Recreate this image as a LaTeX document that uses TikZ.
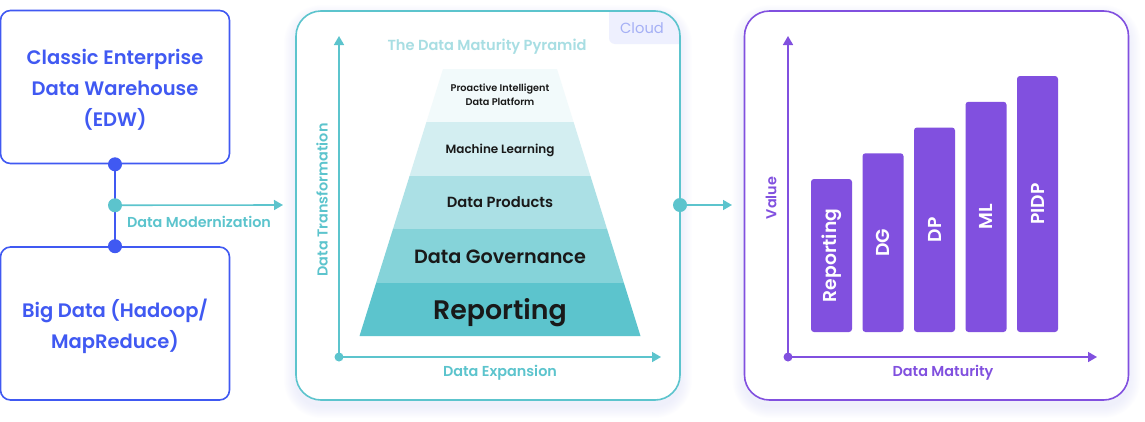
\documentclass[tikz,border=0pt]{standalone}
\usepackage{fontspec}
\setmainfont{Poppins}[BoldFont={Poppins SemiBold}]
\usetikzlibrary{calc,positioning,arrows.meta}
\definecolor{edwblue}{HTML}{4059F2}
\definecolor{cloudcyan}{HTML}{5CC4CD}
\definecolor{valpurple}{HTML}{8150DF}
\definecolor{tagfill}{HTML}{EEF0FE}
\definecolor{tagtext}{HTML}{A5B0F5}
\definecolor{titlecyan}{HTML}{A8DEE3}
\definecolor{shadowcol}{HTML}{D5D7F5}
\definecolor{lay0}{HTML}{F2FAFB}
\definecolor{lay1}{HTML}{D3EEF1}
\definecolor{lay2}{HTML}{ABE0E5}
\definecolor{lay3}{HTML}{85D3D9}
\definecolor{lay4}{HTML}{5CC4CD}
\newcommand{\sz}[1]{\fontsize{#1}{#1}\selectfont}
\newcommand{\lw}{1.6pt}
\tikzstyle{legacy}=[rectangle, draw=edwblue, line width=\lw, rounded corners=10pt, minimum width=229pt, minimum height=153pt, fill=white, inner sep=0pt]
\tikzstyle{legacytext}=[inner sep=0pt, text=edwblue, font=\bfseries\fontsize{19.5}{31}\selectfont, align=center]
\tikzstyle{panel}=[rectangle, line width=\lw, rounded corners=25pt, minimum width=384pt, minimum height=389pt, fill=white, inner sep=0pt]
\tikzstyle{dot}=[circle, inner sep=0pt, minimum size=14pt]
\tikzstyle{origin}=[circle, inner sep=0pt, minimum size=9pt]
\tikzstyle{axlabel}=[inner sep=0pt, font=\bfseries\sz{14.4}]
\tikzstyle{valbar}=[rectangle, fill=valpurple, rounded corners=3pt, inner sep=0pt, minimum height=41pt, text=white, font=\bfseries\sz{18.7}]

\begin{document}
\begin{tikzpicture}[x=1pt,y=-1pt,>={Triangle[length=9pt,width=10pt]}]
\useasboundingbox (0,0) rectangle (1145,421);

\foreach \x in {488,936.5}
  \foreach \k in {1,...,12}{
    \pgfmathsetmacro\rc{25+\k}
    \fill[shadowcol,opacity=0.04,rounded corners=\rc pt] ({\x-192-\k},{11-\k+6}) rectangle ({\x+192+\k},{400+\k+6});
  }

\node[legacy] (EDW) at (115,87) {};
\node[legacytext] (EDWt) at (115,90) {Classic Enterprise\\Data Warehouse\\(EDW)};
\node[legacy] (BD) at (115,323.5) {};
\node[legacytext] (BDt) at (115,326) {Big Data (Hadoop/\\MapReduce)};
\node[dot,fill=edwblue] (EDWd) at (EDW.south) {};
\node[dot,fill=edwblue] (BDd) at (BD.north) {};
\draw[draw=edwblue,line width=\lw] (EDWd.center) -- (BDd.center);
\node[dot,fill=cloudcyan] (MOD) at ($(EDWd)!0.5!(BDd)$) {};
\coordinate (MODe) at (283,205);
\draw[->,cloudcyan,line width=\lw] (MOD) -- (MODe);
\node[axlabel,text=cloudcyan] (MODl) at (199,222) {Data Modernization};

\node[panel] (CLD) at (488,205.5) {};
\begin{scope}
\clip[rounded corners=25pt] (CLD.north west) rectangle (CLD.south east);
\fill[tagfill,rounded corners=6pt] (609,0) rectangle (700,44);
\end{scope}
\node[panel,draw=cloudcyan,fill=none] at (CLD) {};
\node[inner sep=0pt,text=tagtext,font=\sz{14.7}] (TAG) at (642,28) {Cloud};
\node[inner sep=0pt,text=titlecyan,font=\bfseries\sz{14.6}] (TTL) at (487,47) {The Data Maturity Pyramid};

\foreach \yt/\yb/\lab/\fs/\yl [count=\i from 0] in {69/122/{Proactive Intelligent\\Data Platform}/9.7/105.5, 122/176/Machine Learning/12/153.5, 176/229/Data Products/14.7/207, 229/283/Data Governance/19.2/263, 283/336/Reporting/26.8/319}
{
  \pgfmathsetmacro\wt{57+(\yt-69)*0.3127}
  \pgfmathsetmacro\wb{57+(\yb-69)*0.3127}
  \fill[lay\i] ({500-\wt},\yt) -- ({500+\wt},\yt) -- ({500+\wb},\yb) -- ({500-\wb},\yb) -- cycle;
  \node[anchor=base,inner sep=0pt,align=center,text=black!90,font=\bfseries\fontsize{\fs}{14}\selectfont] (L\i) at (500,\yl) {\lab};
}

\node[origin,fill=cloudcyan] (O1) at (339,357) {};
\coordinate (Y1) at (339,36);
\coordinate (X1) at (661,357);
\draw[->,cloudcyan,line width=\lw] (O1.center) -- (Y1);
\draw[->,cloudcyan,line width=\lw] (O1.center) -- (X1);
\node[axlabel,text=cloudcyan] (XL1) at (500,373) {Data Expansion};
\node[axlabel,text=cloudcyan,rotate=90] (YL1) at (322,200) {Data Transformation};

\node[dot,fill=cloudcyan] (CLDd) at (680,205) {};
\coordinate (CLDe) at (732,205);
\draw[->,cloudcyan,line width=\lw] (CLDd) -- (CLDe);

\node[panel,draw=valpurple] (VAL) at (936.5,205.5) {};
\foreach \lab [count=\i from 0] in {Reporting,DG,DP,ML,PIDP}
{
  \pgfmathsetmacro\bx{831.5+51.5*\i}
  \pgfmathsetmacro\bt{179-25.75*\i}
  \node[valbar,rotate=90,minimum width={332-\bt}] (B\i) at (\bx,{(\bt+332)/2}) {\lab};
}

\node[origin,fill=valpurple] (O2) at (788,357) {};
\coordinate (Y2) at (788,36);
\coordinate (X2) at (1097,357);
\draw[->,valpurple,line width=\lw] (O2.center) -- (Y2);
\draw[->,valpurple,line width=\lw] (O2.center) -- (X2);
\node[axlabel,text=valpurple] (XL2) at (943,373) {Data Maturity};
\node[axlabel,text=valpurple,rotate=90] (YL2) at (771,198) {Value};

\end{tikzpicture}
\end{document}
